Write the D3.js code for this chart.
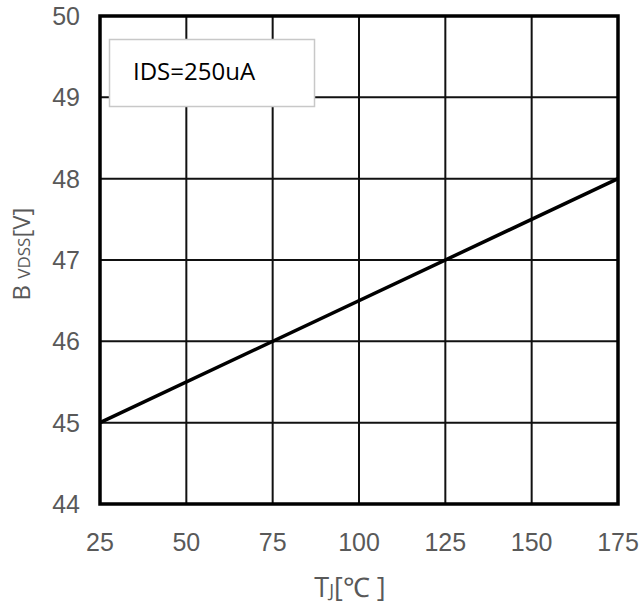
<!DOCTYPE html>
<html><head><meta charset="utf-8">
<script src="https://cdn.jsdelivr.net/npm/d3@7"></script>
<style>body{margin:0;background:#fff}svg{display:block}</style>
</head><body>
<svg id="c" width="643" height="606"></svg>
<script>
const xTicks = [25, 50, 75, 100, 125, 150, 175];
const yTicks = [44, 45, 46, 47, 48, 49, 50];
const tj = [25, 175];
const bvdss = [45, 48];
const legendText = "IDS=250uA";

const svg = d3.select("#c");
const font = "'Open Sans', sans-serif";
const tickFont = "'Liberation Sans', sans-serif";
const x = d3.scaleLinear().domain([25, 175]).range([100, 618]);
const y = d3.scaleLinear().domain([44, 50]).range([504, 16]);

// grid
svg.append("g").selectAll("line").data(xTicks).join("line")
  .attr("x1", d => x(d)).attr("x2", d => x(d)).attr("y1", y(50)).attr("y2", y(44))
  .attr("stroke", "#111").attr("stroke-width", 2);
svg.append("g").selectAll("line").data(yTicks).join("line")
  .attr("x1", x(25)).attr("x2", x(175)).attr("y1", d => y(d)).attr("y2", d => y(d))
  .attr("stroke", "#111").attr("stroke-width", 2);

// legend box
svg.append("rect").attr("x", 109.5).attr("y", 39.5).attr("width", 205).attr("height", 67)
  .attr("fill", "#fff").attr("stroke", "#c8c8c8").attr("stroke-width", 1.5);
svg.append("text").attr("x", 133).attr("y", 80).attr("font-family", font)
  .attr("font-size", 24).attr("fill", "#000").text(legendText);

// border
svg.append("rect").attr("x", x(25)).attr("y", y(50)).attr("width", x(175) - x(25))
  .attr("height", y(44) - y(50)).attr("fill", "none").attr("stroke", "#000").attr("stroke-width", 3.5);

// data line
svg.append("path").datum(tj.map((t, i) => [t, bvdss[i]]))
  .attr("d", d3.line().x(d => x(d[0])).y(d => y(d[1])))
  .attr("fill", "none").attr("stroke", "#000").attr("stroke-width", 3.5);

// tick labels
svg.append("g").selectAll("text").data(yTicks).join("text")
  .attr("x", 80).attr("y", d => y(d)).attr("dy", "0.36em").attr("text-anchor", "end")
  .attr("font-family", tickFont).attr("font-size", 25).attr("fill", "#595959").text(d => d);
svg.append("g").selectAll("text").data(xTicks).join("text")
  .attr("x", d => x(d)).attr("y", 551).attr("text-anchor", "middle")
  .attr("font-family", tickFont).attr("font-size", 25).attr("fill", "#595959").text(d => d);

// axis titles
const xt = svg.append("text").attr("x", 350).attr("y", 597).attr("text-anchor", "middle")
  .attr("font-family", font).attr("font-size", 27).attr("fill", "#595959");
xt.append("tspan").text("T");
xt.append("tspan").attr("font-size", 18).text("J");
xt.append("tspan").text("[℃ ]");

const yt = svg.append("text").attr("transform", "translate(30,254) rotate(-90)")
  .attr("text-anchor", "middle").attr("font-family", font).attr("font-size", 24).attr("fill", "#595959");
yt.append("tspan").text("B ");
yt.append("tspan").attr("font-size", 17).text("VDSS");
yt.append("tspan").text("[V]");
</script>
</body></html>
